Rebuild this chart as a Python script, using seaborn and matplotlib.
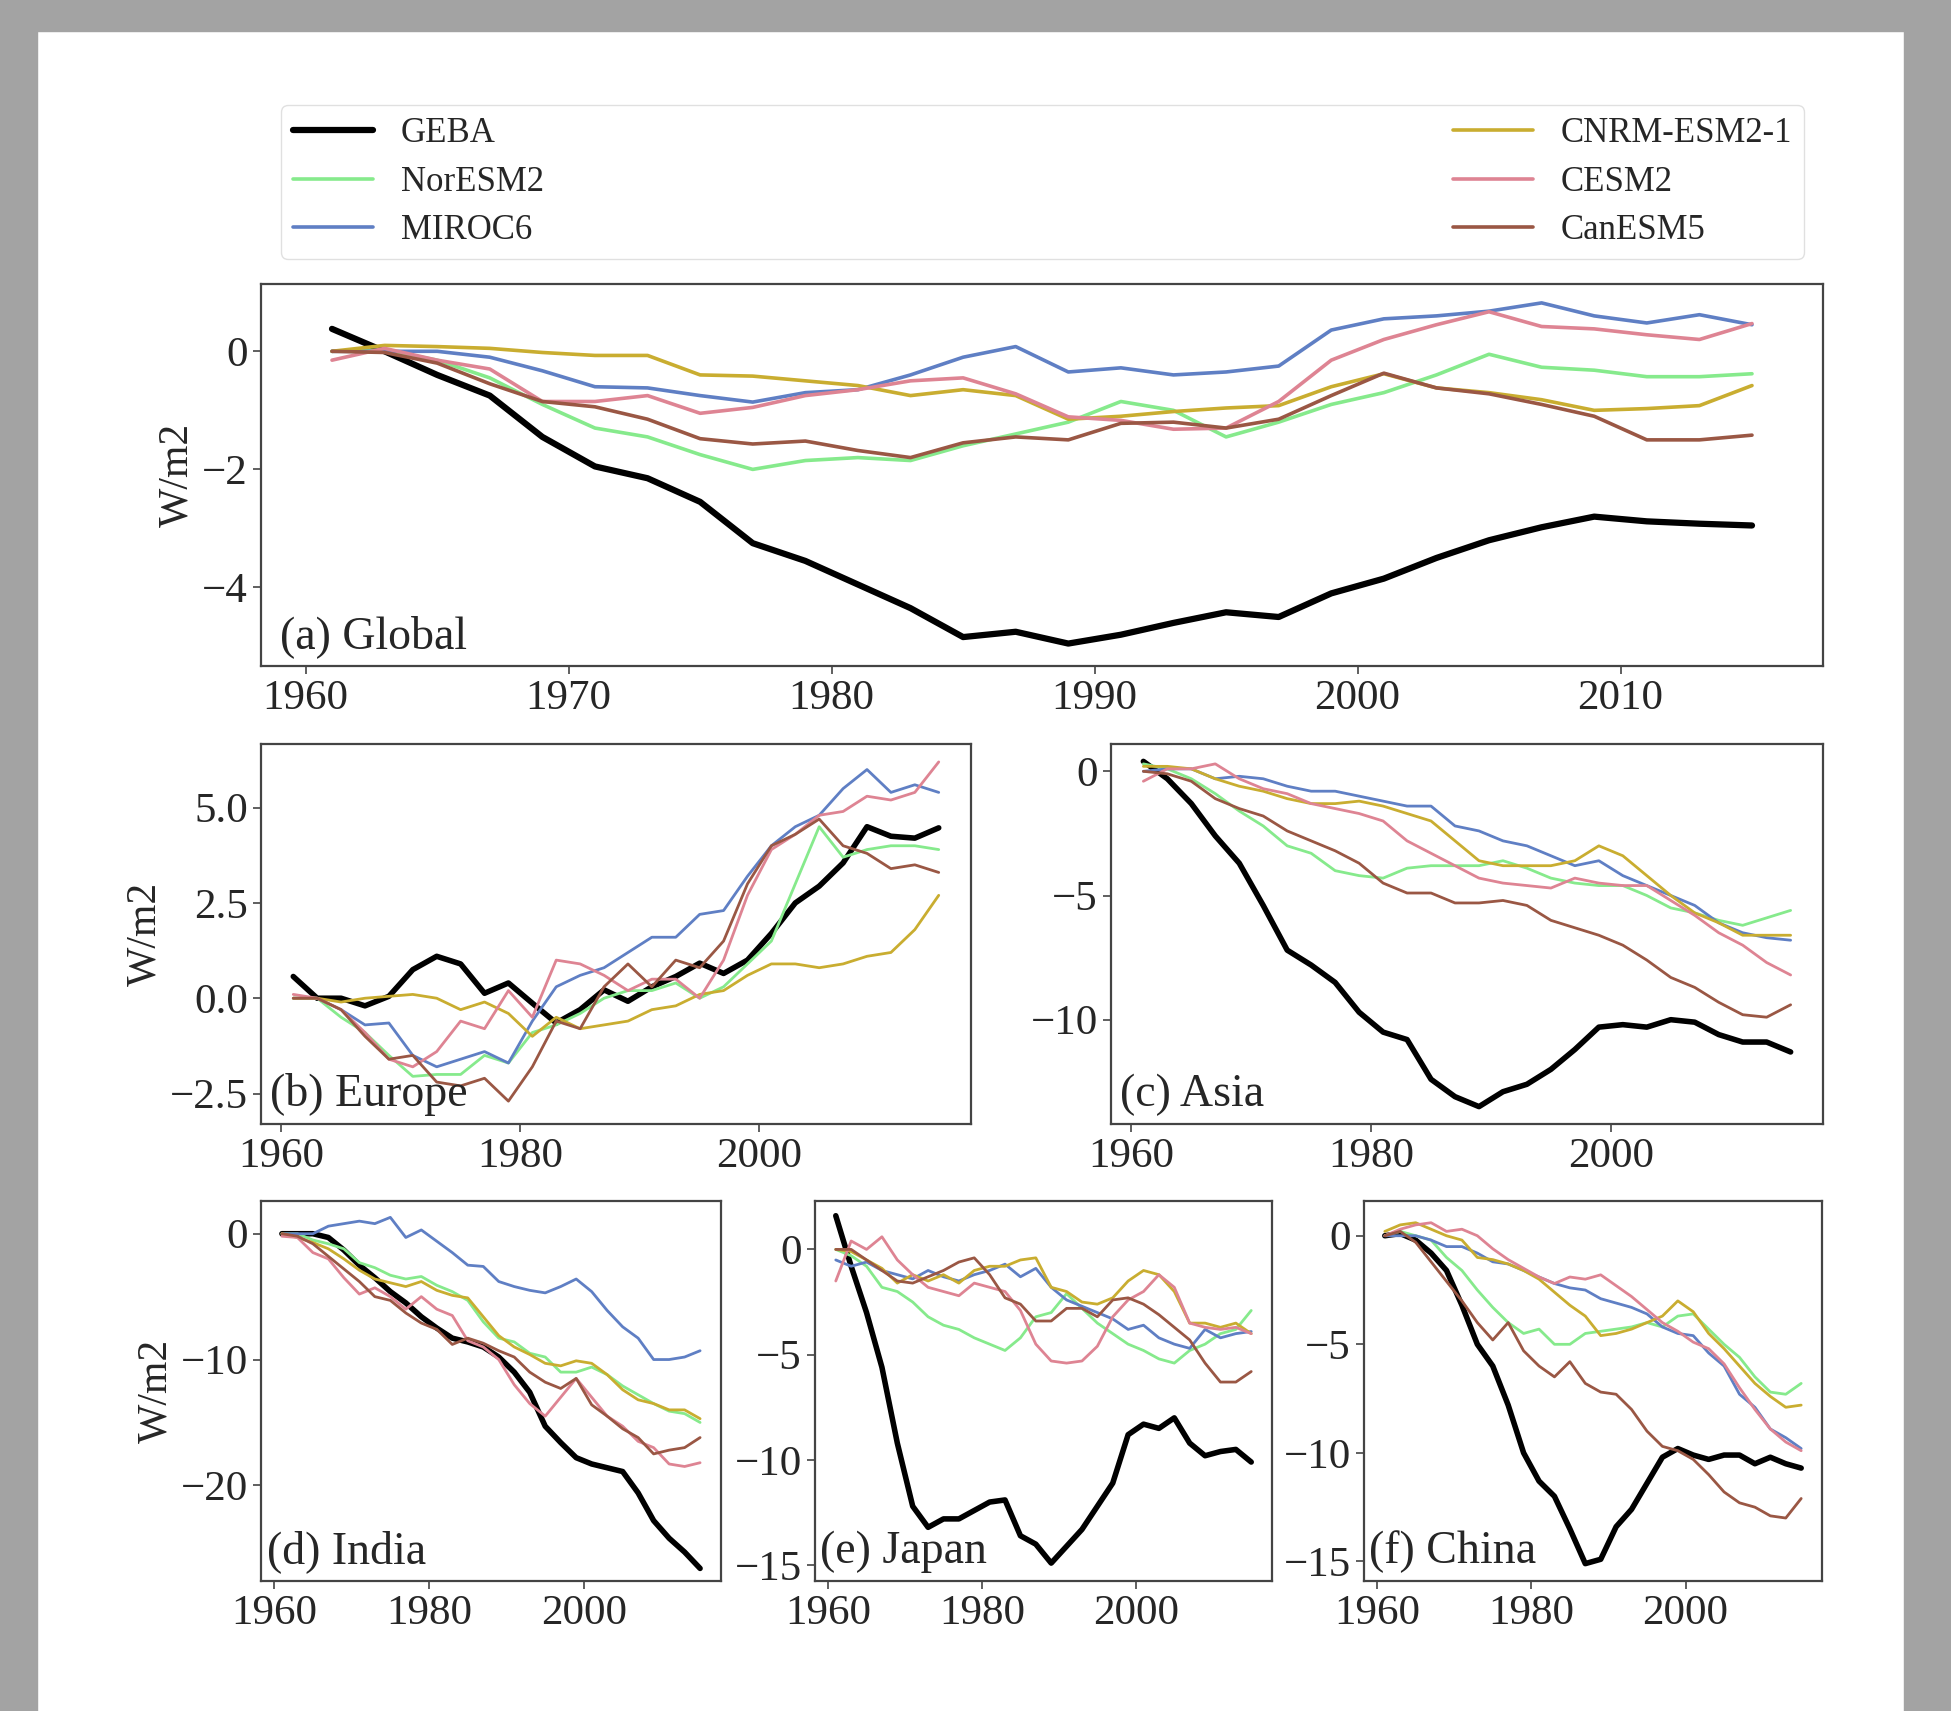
import matplotlib
matplotlib.use('Agg')
import matplotlib.pyplot as plt
from matplotlib.patches import Rectangle
import seaborn as sns

# years of the running series (every second year)
years = list(range(1961, 2016, 2))
models = ['GEBA', 'NorESM2', 'MIROC6', 'CNRM-ESM2-1', 'CESM2', 'CanESM5']
colors = {'GEBA': 'black', 'NorESM2': '#86ea8c', 'MIROC6': '#5f7fc4',
          'CNRM-ESM2-1': '#c9ad30', 'CESM2': '#de8493', 'CanESM5': '#9a5744'}

global_data = {
    'GEBA': [0.38, 0.0, -0.4, -0.75, -1.45, -1.95, -2.15, -2.55, -3.25, -3.55, -3.95, -4.35, -4.84, -4.75,
             -4.95, -4.8, -4.6, -4.42, -4.5, -4.1, -3.85, -3.5, -3.2, -2.98, -2.8, -2.88, -2.92, -2.95],
    'NorESM2': [0.0, 0.02, -0.15, -0.45, -0.9, -1.3, -1.45, -1.75, -2.0, -1.85, -1.8, -1.85, -1.6, -1.4,
                -1.2, -0.85, -1.0, -1.45, -1.2, -0.9, -0.7, -0.4, -0.05, -0.27, -0.32, -0.43, -0.43, -0.38],
    'MIROC6': [0.0, 0.0, 0.0, -0.1, -0.33, -0.6, -0.62, -0.75, -0.86, -0.7, -0.65, -0.4, -0.1, 0.08,
               -0.35, -0.28, -0.4, -0.35, -0.25, 0.36, 0.55, 0.6, 0.68, 0.82, 0.6, 0.48, 0.62, 0.45],
    'CNRM-ESM2-1': [0.0, 0.1, 0.08, 0.05, -0.02, -0.07, -0.07, -0.4, -0.42, -0.5, -0.58, -0.75, -0.65, -0.75,
                    -1.15, -1.1, -1.02, -0.96, -0.92, -0.6, -0.38, -0.62, -0.7, -0.82, -1.0, -0.97, -0.92, -0.58],
    'CESM2': [-0.15, 0.05, -0.15, -0.3, -0.85, -0.85, -0.75, -1.05, -0.95, -0.75, -0.65, -0.5, -0.45, -0.72,
              -1.11, -1.17, -1.32, -1.3, -0.85, -0.15, 0.2, 0.45, 0.67, 0.42, 0.38, 0.28, 0.2, 0.47],
    'CanESM5': [0.0, -0.02, -0.2, -0.55, -0.85, -0.94, -1.15, -1.48, -1.57, -1.52, -1.68, -1.8, -1.55, -1.45,
                -1.5, -1.22, -1.2, -1.3, -1.15, -0.75, -0.37, -0.62, -0.72, -0.9, -1.1, -1.5, -1.5, -1.42],
}

europe_data = {
    'GEBA': [0.57, 0.0, 0.0, -0.2, 0.05, 0.75, 1.1, 0.9, 0.13, 0.4, -0.13, -0.65, -0.3, 0.22,
             -0.08, 0.3, 0.57, 0.92, 0.65, 1.0, 1.7, 2.5, 2.94, 3.55, 4.5, 4.25, 4.2, 4.47],
    'NorESM2': [0.0, 0.0, -0.5, -0.9, -1.5, -2.05, -2.0, -2.0, -1.5, -1.7, -0.9, -0.7, -0.4, 0.0,
                0.2, 0.2, 0.4, 0.0, 0.3, 0.9, 1.5, 3.0, 4.5, 3.7, 3.9, 4.0, 4.0, 3.9],
    'MIROC6': [0.0, 0.0, -0.3, -0.7, -0.65, -1.5, -1.8, -1.6, -1.4, -1.7, -0.6, 0.3, 0.6, 0.8,
               1.2, 1.6, 1.6, 2.2, 2.3, 3.2, 4.0, 4.5, 4.8, 5.5, 6.0, 5.4, 5.6, 5.4],
    'CNRM-ESM2-1': [0.0, 0.0, -0.1, 0.0, 0.05, 0.1, 0.0, -0.3, -0.1, -0.4, -1.0, -0.5, -0.8, -0.7,
                    -0.6, -0.3, -0.2, 0.1, 0.2, 0.6, 0.9, 0.9, 0.8, 0.9, 1.1, 1.2, 1.8, 2.7],
    'CESM2': [0.1, 0.0, -0.3, -0.9, -1.6, -1.8, -1.4, -0.6, -0.8, 0.2, -0.5, 1.0, 0.9, 0.6,
              0.2, 0.5, 0.5, 0.0, 1.0, 2.7, 3.9, 4.3, 4.8, 4.9, 5.3, 5.2, 5.4, 6.2],
    'CanESM5': [0.0, 0.0, -0.3, -1.0, -1.6, -1.5, -2.2, -2.3, -2.1, -2.7, -1.8, -0.6, -0.8, 0.3,
                0.9, 0.3, 1.0, 0.8, 1.5, 3.0, 4.0, 4.3, 4.7, 4.0, 3.8, 3.4, 3.5, 3.3],
}

asia_data = {
    'GEBA': [0.4, -0.3, -1.3, -2.6, -3.7, -5.4, -7.2, -7.8, -8.5, -9.7, -10.5, -10.8, -12.4, -13.1,
             -13.5, -12.9, -12.6, -12.0, -11.2, -10.3, -10.2, -10.3, -10.0, -10.1, -10.6, -10.9, -10.9, -11.3],
    'NorESM2': [0.3, 0.1, -0.3, -0.9, -1.6, -2.2, -3.0, -3.3, -4.0, -4.2, -4.3, -3.9, -3.8, -3.8,
                -3.8, -3.6, -3.9, -4.3, -4.5, -4.6, -4.6, -5.0, -5.5, -5.7, -6.0, -6.2, -5.9, -5.6],
    'MIROC6': [0.0, 0.1, 0.1, -0.3, -0.2, -0.3, -0.6, -0.8, -0.8, -1.0, -1.2, -1.4, -1.4, -2.2,
               -2.4, -2.8, -3.0, -3.4, -3.8, -3.6, -4.2, -4.6, -5.0, -5.4, -6.1, -6.5, -6.7, -6.8],
    'CNRM-ESM2-1': [0.2, 0.2, 0.1, -0.3, -0.6, -0.8, -1.1, -1.3, -1.3, -1.2, -1.4, -1.7, -2.0, -2.8,
                    -3.6, -3.8, -3.8, -3.8, -3.6, -3.0, -3.4, -4.2, -5.0, -5.7, -6.1, -6.6, -6.6, -6.6],
    'CESM2': [-0.4, 0.1, 0.1, 0.3, -0.3, -0.7, -0.9, -1.3, -1.5, -1.7, -2.0, -2.8, -3.3, -3.8,
              -4.3, -4.5, -4.6, -4.7, -4.3, -4.5, -4.6, -4.6, -5.2, -5.8, -6.5, -7.0, -7.7, -8.2],
    'CanESM5': [0.0, -0.1, -0.4, -1.1, -1.5, -1.8, -2.4, -2.8, -3.2, -3.7, -4.5, -4.9, -4.9, -5.3,
                -5.3, -5.2, -5.4, -6.0, -6.3, -6.6, -7.0, -7.6, -8.3, -8.7, -9.3, -9.8, -9.9, -9.4],
}

india_data = {
    'GEBA': [0.0, 0.0, 0.0, -0.3, -1.3, -2.5, -3.5, -4.6, -5.5, -6.6, -7.5, -8.3, -8.6, -9.0,
             -9.8, -11.0, -12.6, -15.3, -16.6, -17.8, -18.3, -18.6, -18.9, -20.6, -22.8, -24.2, -25.3, -26.6],
    'NorESM2': [0.0, 0.0, -0.5, -0.8, -1.2, -2.3, -2.7, -3.3, -3.6, -3.4, -4.1, -4.6, -5.3, -7.0,
                -8.3, -8.6, -9.5, -9.8, -11.0, -11.0, -10.6, -11.2, -12.1, -12.8, -13.5, -14.1, -14.3, -15.0],
    'MIROC6': [0.0, 0.0, 0.0, 0.6, 0.8, 1.0, 0.8, 1.3, -0.3, 0.3, -0.6, -1.5, -2.5, -2.6,
               -3.8, -4.2, -4.5, -4.7, -4.2, -3.6, -4.6, -6.1, -7.4, -8.3, -10.0, -10.0, -9.8, -9.3],
    'CNRM-ESM2-1': [0.0, -0.3, -0.7, -1.2, -2.0, -2.9, -3.6, -3.9, -4.2, -3.8, -4.5, -4.9, -5.1, -6.6,
                    -8.1, -9.0, -9.6, -10.3, -10.5, -10.1, -10.3, -11.2, -12.4, -13.2, -13.5, -14.0, -14.0, -14.7],
    'CESM2': [-0.2, -0.3, -1.5, -2.0, -3.5, -4.8, -4.3, -5.0, -6.0, -5.0, -6.0, -6.5, -8.5, -9.0,
              -10.0, -12.0, -13.5, -14.5, -13.0, -11.5, -13.0, -14.5, -15.3, -16.5, -17.0, -18.3, -18.5, -18.2],
    'CanESM5': [0.0, -0.2, -0.8, -1.8, -2.8, -3.8, -5.0, -5.3, -6.3, -7.1, -7.6, -8.8, -8.3, -8.7,
                -9.3, -9.8, -11.0, -11.8, -12.3, -11.5, -13.6, -14.5, -15.5, -16.2, -17.5, -17.2, -17.0, -16.2],
}

japan_data = {
    'GEBA': [1.6, -0.8, -3.0, -5.6, -9.2, -12.2, -13.2, -12.8, -12.8, -12.4, -12.0, -11.9, -13.6, -14.0,
             -14.9, -14.1, -13.3, -12.2, -11.1, -8.8, -8.3, -8.5, -8.0, -9.2, -9.8, -9.6, -9.5, -10.1],
    'NorESM2': [0.0, -0.3, -0.8, -1.8, -2.0, -2.5, -3.2, -3.6, -3.8, -4.2, -4.5, -4.8, -4.2, -3.2,
                -3.0, -2.1, -2.8, -3.5, -4.0, -4.5, -4.8, -5.2, -5.4, -4.8, -4.5, -4.0, -3.8, -2.9],
    'MIROC6': [-0.5, -0.8, -0.6, -1.0, -1.2, -1.4, -1.0, -1.3, -1.5, -1.2, -1.0, -0.7, -1.3, -0.9,
               -1.8, -2.4, -2.7, -3.0, -3.3, -3.8, -3.6, -4.2, -4.5, -4.7, -3.8, -4.2, -4.0, -3.9],
    'CNRM-ESM2-1': [0.0, -0.1, -0.5, -0.9, -1.6, -1.2, -1.5, -1.2, -1.6, -1.0, -0.8, -0.8, -0.5, -0.4,
                    -1.8, -2.0, -2.5, -2.6, -2.3, -1.5, -1.0, -1.2, -2.0, -3.5, -3.5, -3.7, -3.5, -4.0],
    'CESM2': [-1.5, 0.4, 0.0, 0.6, -0.5, -1.2, -1.8, -2.0, -2.2, -1.6, -1.8, -2.0, -2.9, -4.5,
              -5.3, -5.4, -5.3, -4.6, -3.2, -2.4, -2.0, -1.2, -1.8, -3.5, -3.7, -3.8, -3.7, -4.0],
    'CanESM5': [0.0, 0.0, -0.5, -1.0, -1.5, -1.6, -1.3, -1.0, -0.6, -0.4, -1.2, -2.3, -2.6, -3.4,
                -3.4, -2.8, -2.8, -3.2, -2.4, -2.3, -2.6, -3.1, -3.7, -4.3, -5.4, -6.3, -6.3, -5.8],
}

china_data = {
    'GEBA': [0.0, 0.1, -0.2, -0.8, -1.6, -3.2, -5.0, -6.0, -7.8, -10.0, -11.3, -12.0, -13.5, -15.1,
             -14.9, -13.4, -12.6, -11.4, -10.2, -9.8, -10.1, -10.3, -10.1, -10.1, -10.5, -10.2, -10.5, -10.7],
    'NorESM2': [0.0, 0.2, 0.0, -0.2, -1.0, -1.6, -2.5, -3.3, -4.0, -4.5, -4.3, -5.0, -5.0, -4.5,
                -4.4, -4.3, -4.2, -4.0, -4.2, -3.7, -3.6, -4.3, -5.0, -5.6, -6.5, -7.2, -7.3, -6.8],
    'MIROC6': [0.0, 0.0, 0.0, -0.2, -0.5, -0.5, -0.8, -1.2, -1.3, -1.6, -1.9, -2.2, -2.4, -2.5,
               -2.9, -3.1, -3.3, -3.6, -4.2, -4.5, -4.6, -5.4, -6.0, -7.3, -7.9, -8.9, -9.3, -9.8],
    'CNRM-ESM2-1': [0.2, 0.5, 0.6, 0.3, 0.0, -0.2, -1.0, -1.1, -1.3, -1.6, -2.0, -2.6, -3.2, -3.7,
                    -4.6, -4.5, -4.3, -4.0, -3.7, -3.0, -3.5, -4.5, -5.2, -6.0, -6.8, -7.4, -7.9, -7.8],
    'CESM2': [0.0, 0.3, 0.5, 0.6, 0.2, 0.3, 0.0, -0.6, -1.1, -1.5, -1.9, -2.2, -1.9, -2.0,
              -1.8, -2.3, -2.8, -3.4, -4.0, -4.4, -4.9, -5.2, -5.9, -7.0, -8.0, -8.9, -9.5, -9.9],
    'CanESM5': [0.0, 0.2, -0.3, -1.2, -2.1, -3.0, -4.0, -4.8, -4.0, -5.3, -6.0, -6.5, -5.8, -6.8,
                -7.2, -7.3, -8.0, -9.0, -9.7, -9.9, -10.3, -11.0, -11.8, -12.3, -12.5, -12.9, -13.0, -12.1],
}

sns.set_style('ticks')
plt.rcParams['font.family'] = ['Liberation Serif', 'DejaVu Serif']

W, H = 1951, 1711
fig = plt.figure(figsize=(W / 100, H / 100), dpi=100)

# grey screenshot frame
grey = '#a3a3a3'
fig.patches.append(Rectangle((0, 0), 37 / W, 1, transform=fig.transFigure, color=grey, zorder=-5))
fig.patches.append(Rectangle((1904 / W, 0), 1 - 1904 / W, 1, transform=fig.transFigure, color=grey, zorder=-5))
fig.patches.append(Rectangle((0, 1 - 31 / H), 1, 31 / H, transform=fig.transFigure, color=grey, zorder=-5))


def rect(x0, x1, y0, y1):
    return [x0 / W, 1 - y1 / H, (x1 - x0) / W, (y1 - y0) / H]


panels = [
    (global_data, rect(261, 1823, 284, 666), '(a) Global', (-5.33, 1.14), [-4, -2, 0],
     [1960, 1970, 1980, 1990, 2000, 2010], True, 2.6, 4.5),
    (europe_data, rect(261, 971, 744, 1124), '(b) Europe', (-3.3, 6.67), [-2.5, 0.0, 2.5, 5.0],
     [1960, 1980, 2000], True, 2.0, 4.0),
    (asia_data, rect(1111, 1823, 744, 1124), '(c) Asia', (-14.2, 1.1), [-10, -5, 0],
     [1960, 1980, 2000], False, 2.0, 4.0),
    (india_data, rect(261, 721, 1201, 1581), '(d) India', (-27.6, 2.6), [-20, -10, 0],
     [1960, 1980, 2000], True, 2.0, 4.0),
    (japan_data, rect(815, 1272, 1201, 1581), '(e) Japan', (-15.75, 2.3), [-15, -10, -5, 0],
     [1960, 1980, 2000], False, 2.0, 4.0),
    (china_data, rect(1364, 1822, 1201, 1581), '(f) China', (-15.9, 1.6), [-15, -10, -5, 0],
     [1960, 1980, 2000], False, 2.0, 4.0),
]

frame_col = '#444444'
for i, (data, pos, label, ylim, yticks, xticks, show_ylabel, lw, lw_geba) in enumerate(panels):
    ax = fig.add_axes(pos)
    for m in models:
        sns.lineplot(x=years, y=data[m], color=colors[m], lw=lw_geba if m == 'GEBA' else lw,
                     ax=ax, label=m, legend=False)
    ax.set_ylim(*ylim)
    ax.set_yticks(yticks)
    ax.set_xticks(xticks)
    ax.tick_params(labelsize=31, length=6, width=1.2, color=frame_col)
    for s in ax.spines.values():
        s.set_linewidth(1.6)
        s.set_color(frame_col)
    ax.set_xlabel('')
    ax.set_ylabel('W/m2' if show_ylabel else '', fontsize=30)
    ax.text(0.012, 0.02, label, transform=ax.transAxes, fontsize=33, ha='left', va='bottom')
    if i == 0:
        ax.legend(ax.get_lines()[:len(models)], models, bbox_to_anchor=(0.0128, 1.065, 0.975, 0.4),
                  loc='lower left', mode='expand', ncol=2, borderaxespad=0, fontsize=25,
                  handlelength=2.3, labelspacing=0.44, borderpad=0.35, edgecolor='0.85')

fig.savefig('out.png', dpi=100, facecolor='white')
